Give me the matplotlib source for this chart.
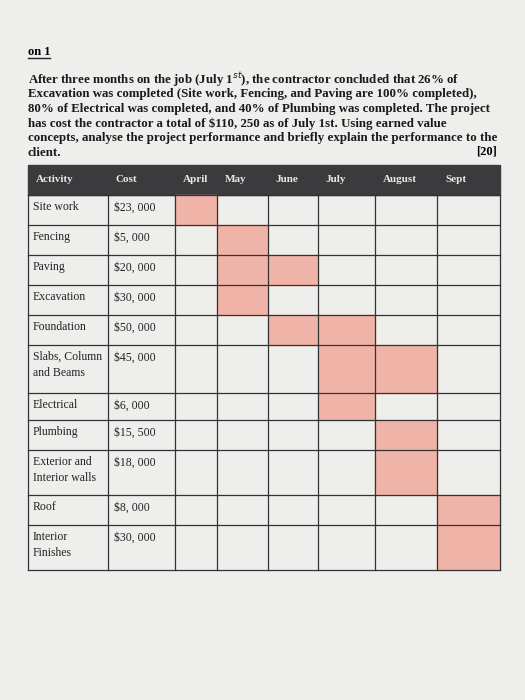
import matplotlib.pyplot as plt
from matplotlib.patches import Rectangle

plt.rcParams['font.family'] = ['Liberation Serif', 'DejaVu Serif']

activities = ["Site work", "Fencing", "Paving", "Excavation", "Foundation",
              "Slabs, Column\nand Beams", "Electrical", "Plumbing",
              "Exterior and\nInterior walls", "Roof", "Interior\nFinishes"]
costs = ["$23, 000", "$5, 000", "$20, 000", "$30, 000", "$50, 000", "$45, 000",
         "$6, 000", "$15, 500", "$18, 000", "$8, 000", "$30, 000"]
months = ["April", "May", "June", "July", "August", "Sept"]
# shaded months per activity (index into months)
schedule = [[0], [1], [1, 2], [1], [2, 3], [3, 4], [3], [4], [4], [5], [5]]

question = [
    "After three months on the job (July 1$^{st}$), the contractor concluded that 26% of",
    "Excavation was completed (Site work, Fencing, and Paving are 100% completed),",
    "80% of Electrical was completed, and 40% of Plumbing was completed. The project",
    "has cost the contractor a total of \\$110, 250 as of July 1st. Using earned value",
    "concepts, analyse the project performance and briefly explain the performance to the",
    "client.",
]

# layout in pixels
col_x = [28, 108, 175, 217, 268, 318, 375, 437, 500]
row_y = [165, 195, 225, 255, 285, 315, 345, 393, 420, 450, 495, 525, 570]

fig = plt.figure(figsize=(5.25, 7), dpi=100)
fig.patch.set_facecolor('#eeeeec')
ax = fig.add_axes([0, 0, 1, 1])
ax.set_xlim(0, 525)
ax.set_ylim(700, 0)
ax.axis('off')

ax.text(28, 52, "on 1", fontsize=9, fontweight='bold', va='center')
ax.plot([28, 50], [58, 58], color='#222', lw=1)
for i, line in enumerate(question):
    ax.text(28, 80 + i * 14.5, line, fontsize=9.3, va='center', color='#1a1a1a',
            fontweight='semibold')
ax.text(497, 152, "[20]", fontsize=9, fontweight='bold', ha='right', va='center')

# header
ax.add_patch(Rectangle((col_x[0], row_y[0]), col_x[-1] - col_x[0], row_y[1] - row_y[0],
                       color='#3b3b3d'))
headers = ["Activity", "Cost"] + months
for j, h in enumerate(headers):
    ax.text(col_x[j] + 8, (row_y[0] + row_y[1]) / 2, h, fontsize=8, fontweight='bold',
            color='#e8e8e8', va='center')

# shaded cells
for i, cols in enumerate(schedule):
    for c in cols:
        ax.add_patch(Rectangle((col_x[c + 2], row_y[i + 1]), col_x[c + 3] - col_x[c + 2],
                               row_y[i + 2] - row_y[i + 1], color='#f0b3a8'))

# grid
for y in row_y[1:]:
    ax.plot([col_x[0], col_x[-1]], [y, y], color='#333', lw=0.9)
for x in col_x:
    ax.plot([x, x], [row_y[1], row_y[-1]], color='#333', lw=0.9)

for i, (a, c) in enumerate(zip(activities, costs)):
    top = row_y[i + 1]
    ax.text(col_x[0] + 5, top + 6, a, fontsize=8.5, va='top', linespacing=1.4, color='#222')
    ax.text(col_x[1] + 6, top + 13, c.replace('$', '\\$'), fontsize=8.5, va='center', color='#222')

fig.savefig("out.png", dpi=100, facecolor=fig.get_facecolor())
